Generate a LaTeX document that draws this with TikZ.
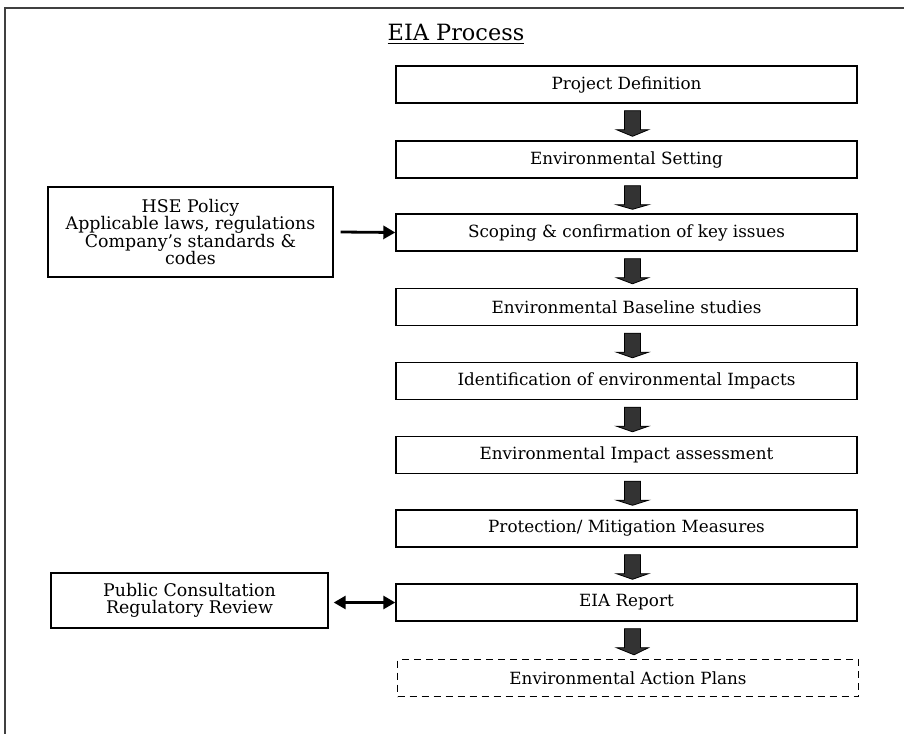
\documentclass[tikz,border=0pt]{standalone}
\usepackage{fontspec}
\setmainfont{DejaVu Serif}
\usetikzlibrary{calc,arrows.meta}
\begin{document}
\begin{tikzpicture}[x=1pt,y=-1pt,
  stage/.style={draw=black,line width=1.4pt,minimum width=461pt,minimum height=37pt,inner sep=0pt,font=\fontsize{16.8}{17.5}\selectfont},
  sidebox/.style={draw=black,line width=1.4pt,inner sep=0pt,align=center,font=\fontsize{17.4}{17.6}\selectfont},
  blockfill/.style={fill=black!80,draw=black,line width=0.8pt},
  tip/.style={Triangle[length=12pt,width=13pt]},
  link/.style={line width=2.8pt,-{Triangle[length=12pt,width=13pt]}},
  duallink/.style={line width=2.8pt,{Triangle[length=12pt,width=13pt]}-{Triangle[length=12pt,width=13pt]}}
]
\useasboundingbox (0,0) rectangle (904,733);
\begin{scope}
\clip (0,0) rectangle (904,733);
\draw[line width=1.8pt,black!75] (5,760) -- (5,8) -- (920,8);
\end{scope}
\node[font=\fontsize{22.4}{24}\selectfont,inner sep=0pt,anchor=base] (title) at (456,41) {\underline{EIA Process}};
\node[stage] (s1) at (626.5,84.5) {Project Definition};
\node[stage] (s2) at (626.5,159.5) {Environmental Setting};
\node[stage] (s3) at (626.5,232.5) {Scoping \& confirmation of key issues};
\node[stage] (s4) at (626.5,307) {Environmental Baseline studies};
\node[stage] (s5) at (626.5,381) {Identification of environmental Impacts};
\node[stage] (s6) at (626.5,455) {Environmental Impact assessment};
\node[stage] (s7) at (626.5,528.5) {Protection/ Mitigation Measures};
\node[stage] (s8) at (626.5,602.5) {EIA Report};
\node[stage,dashed,dash pattern=on 7pt off 5pt] (s9) at (628,678) {Environmental Action Plans};
\foreach \a/\b in {s1/s2,s2/s3,s3/s4,s4/s5,s5/s6,s6/s7,s7/s8,s8/s9}{
  \draw[blockfill] ($(\a.south)+(-2,7)$) -- ++(16,0) -- ++(0,19) -- ++(8,0) -- ($(\b.north)+(6,-4)$) -- ($(\a.south)+(-10,26)$) -- ++(8,0) -- cycle;
}
\node[sidebox,minimum width=285pt,minimum height=90pt] (hse) at (190.5,232) {HSE Policy\\Applicable laws, regulations\\Company's standards \&\\codes};
\node[sidebox,minimum width=277pt,minimum height=55pt] (pub) at (189.5,600.5) {Public Consultation\\Regulatory Review};
\draw[link] ($(hse.east)+(7,0)$) -- (s3.west);
\draw[duallink] ($(pub.east)+(5,2)$) -- (s8.west);
\end{tikzpicture}
\end{document}
